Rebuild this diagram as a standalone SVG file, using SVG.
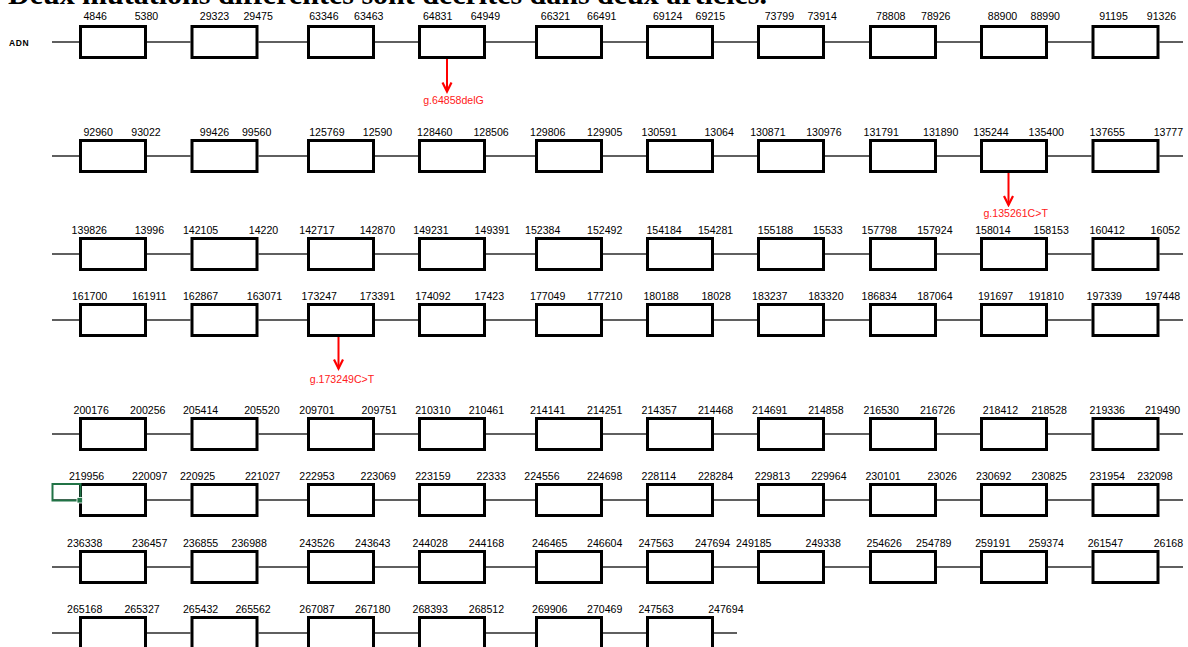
<svg xmlns="http://www.w3.org/2000/svg" width="1188" height="647" viewBox="0 0 1188 647">
<defs>
<style>
.bx{fill:#fff;stroke:#000;stroke-width:3}
.cn{fill:none;stroke:#2b2b2b;stroke-width:1.5}
.n{font-family:"Liberation Sans",Arial,sans-serif;font-size:10.6px;fill:#000}
.m{font-family:"Liberation Sans",Arial,sans-serif;font-size:10.6px;fill:#ff2020;text-anchor:middle}
.ar{fill:none;stroke:#ff0000;stroke-width:2;marker-end:url(#ah)}
</style>
<marker id="ah" markerWidth="12" markerHeight="12" refX="10" refY="6" orient="auto" markerUnits="userSpaceOnUse">
<path d="M1,1.5 L10,6 L1,10.5" fill="none" stroke="#ff0000" stroke-width="2.2"/>
</marker>
</defs>
<rect width="1188" height="647" fill="#fff"/>
<text x="8" y="3.5" font-family="'Liberation Serif','Times New Roman',serif" font-weight="bold" font-size="30" textLength="759" fill="#000">Deux mutations différentes sont décrites dans deux articles.</text>
<text x="9" y="45.5" font-family="'Liberation Sans',Arial,sans-serif" font-weight="bold" font-size="8.5" letter-spacing="0.6" fill="#000">ADN</text>
<g id="connectors">
<path class="cn" d="M52 42H79M147 42H190.5M258.5 42H307M375 42H418M486 42H535M603 42H646M714 42H757M825 42H869M937 42H980M1048 42H1091.5M1159.5 42H1183"/>
<path class="cn" d="M52 156H79M147 156H190.5M258.5 156H307M375 156H418M486 156H535M603 156H646M714 156H757M825 156H869M937 156H980M1048 156H1091.5M1159.5 156H1183"/>
<path class="cn" d="M52 254H79M147 254H190.5M258.5 254H307M375 254H418M486 254H535M603 254H646M714 254H757M825 254H869M937 254H980M1048 254H1091.5M1159.5 254H1183"/>
<path class="cn" d="M52 320H79M147 320H190.5M258.5 320H307M375 320H418M486 320H535M603 320H646M714 320H757M825 320H869M937 320H980M1048 320H1091.5M1159.5 320H1183"/>
<path class="cn" d="M52 434H79M147 434H190.5M258.5 434H307M375 434H418M486 434H535M603 434H646M714 434H757M825 434H869M937 434H980M1048 434H1091.5M1159.5 434H1183"/>
<path class="cn" d="M52 500H79M147 500H190.5M258.5 500H307M375 500H418M486 500H535M603 500H646M714 500H757M825 500H869M937 500H980M1048 500H1091.5M1159.5 500H1183"/>
<path class="cn" d="M52 567H79M147 567H190.5M258.5 567H307M375 567H418M486 567H535M603 567H646M714 567H757M825 567H869M937 567H980M1048 567H1091.5M1159.5 567H1183"/>
<path class="cn" d="M52 633H79M147 633H190.5M258.5 633H307M375 633H418M486 633H535M603 633H646M714 633H737"/>
<path class="ar" d="M447 59V91.5"/>
<path class="ar" d="M1008.5 172.5V205"/>
<path class="ar" d="M338.5 337V368.5"/>
</g>
<g id="row1">
<g id="e1"><rect class="bx" x="80.5" y="26.5" width="65" height="31"/><text class="n" x="83.4" y="19.5">4846</text><text class="n" x="134.7" y="19.5">5380</text></g>
<g id="e2"><rect class="bx" x="192" y="26.5" width="65" height="31"/><text class="n" x="199.8" y="19.5">29323</text><text class="n" x="243.4" y="19.5">29475</text></g>
<g id="e3"><rect class="bx" x="308.5" y="26.5" width="65" height="31"/><text class="n" x="309.2" y="19.5">63346</text><text class="n" x="354" y="19.5">63463</text></g>
<g id="e4"><rect class="bx" x="419.5" y="26.5" width="65" height="31"/><text class="n" x="422.9" y="19.5">64831</text><text class="n" x="470.7" y="19.5">64949</text></g>
<g id="e5"><rect class="bx" x="536.5" y="26.5" width="65" height="31"/><text class="n" x="540.8" y="19.5">66321</text><text class="n" x="587" y="19.5">66491</text></g>
<g id="e6"><rect class="bx" x="647.5" y="26.5" width="65" height="31"/><text class="n" x="652.9" y="19.5">69124</text><text class="n" x="695.6" y="19.5">69215</text></g>
<g id="e7"><rect class="bx" x="758.5" y="26.5" width="65" height="31"/><text class="n" x="764.7" y="19.5">73799</text><text class="n" x="807.4" y="19.5">73914</text></g>
<g id="e8"><rect class="bx" x="870.5" y="26.5" width="65" height="31"/><text class="n" x="876" y="19.5">78808</text><text class="n" x="921" y="19.5">78926</text></g>
<g id="e9"><rect class="bx" x="981.5" y="26.5" width="65" height="31"/><text class="n" x="987.8" y="19.5">88900</text><text class="n" x="1030.5" y="19.5">88990</text></g>
<g id="e10"><rect class="bx" x="1093" y="26.5" width="65" height="31"/><text class="n" x="1099.2" y="19.5">91195</text><text class="n" x="1146.8" y="19.5">91326</text></g>
</g>
<g id="row2">
<g id="e11"><rect class="bx" x="80.5" y="140.5" width="65" height="31"/><text class="n" x="83.4" y="135.7">92960</text><text class="n" x="131.3" y="135.7">93022</text></g>
<g id="e12"><rect class="bx" x="192" y="140.5" width="65" height="31"/><text class="n" x="199.8" y="135.7">99426</text><text class="n" x="241.9" y="135.7">99560</text></g>
<g id="e13"><rect class="bx" x="308.5" y="140.5" width="65" height="31"/><text class="n" x="309.2" y="135.7">125769</text><text class="n" x="362.8" y="135.7">12590</text></g>
<g id="e14"><rect class="bx" x="419.5" y="140.5" width="65" height="31"/><text class="n" x="417.1" y="135.7">128460</text><text class="n" x="473.4" y="135.7">128506</text></g>
<g id="e15"><rect class="bx" x="536.5" y="140.5" width="65" height="31"/><text class="n" x="530" y="135.7">129806</text><text class="n" x="587" y="135.7">129905</text></g>
<g id="e16"><rect class="bx" x="647.5" y="140.5" width="65" height="31"/><text class="n" x="641.5" y="135.7">130591</text><text class="n" x="704.4" y="135.7">13064</text></g>
<g id="e17"><rect class="bx" x="758.5" y="140.5" width="65" height="31"/><text class="n" x="750.2" y="135.7">130871</text><text class="n" x="806.2" y="135.7">130976</text></g>
<g id="e18"><rect class="bx" x="870.5" y="140.5" width="65" height="31"/><text class="n" x="863.5" y="135.7">131791</text><text class="n" x="923" y="135.7">131890</text></g>
<g id="e19"><rect class="bx" x="981.5" y="140.5" width="65" height="31"/><text class="n" x="973.3" y="135.7">135244</text><text class="n" x="1028.6" y="135.7">135400</text></g>
<g id="e20"><rect class="bx" x="1093" y="140.5" width="65" height="31"/><text class="n" x="1089.6" y="135.7">137655</text><text class="n" x="1153.7" y="135.7">13777</text></g>
</g>
<g id="row3">
<g id="e21"><rect class="bx" x="80.5" y="238.5" width="65" height="31"/><text class="n" x="71.6" y="233.5">139826</text><text class="n" x="134.7" y="233.5">13996</text></g>
<g id="e22"><rect class="bx" x="192" y="238.5" width="65" height="31"/><text class="n" x="182.9" y="233.5">142105</text><text class="n" x="248.8" y="233.5">14220</text></g>
<g id="e23"><rect class="bx" x="308.5" y="238.5" width="65" height="31"/><text class="n" x="299.3" y="233.5">142717</text><text class="n" x="359.7" y="233.5">142870</text></g>
<g id="e24"><rect class="bx" x="419.5" y="238.5" width="65" height="31"/><text class="n" x="413.3" y="233.5">149231</text><text class="n" x="474.6" y="233.5">149391</text></g>
<g id="e25"><rect class="bx" x="536.5" y="238.5" width="65" height="31"/><text class="n" x="525" y="233.5">152384</text><text class="n" x="587" y="233.5">152492</text></g>
<g id="e26"><rect class="bx" x="647.5" y="238.5" width="65" height="31"/><text class="n" x="646.4" y="233.5">154184</text><text class="n" x="697.9" y="233.5">154281</text></g>
<g id="e27"><rect class="bx" x="758.5" y="238.5" width="65" height="31"/><text class="n" x="757.8" y="233.5">155188</text><text class="n" x="813.1" y="233.5">15533</text></g>
<g id="e28"><rect class="bx" x="870.5" y="238.5" width="65" height="31"/><text class="n" x="861.5" y="233.5">157798</text><text class="n" x="917.2" y="233.5">157924</text></g>
<g id="e29"><rect class="bx" x="981.5" y="238.5" width="65" height="31"/><text class="n" x="975.2" y="233.5">158014</text><text class="n" x="1033.5" y="233.5">158153</text></g>
<g id="e30"><rect class="bx" x="1093" y="238.5" width="65" height="31"/><text class="n" x="1089.6" y="233.5">160412</text><text class="n" x="1150.6" y="233.5">16052</text></g>
</g>
<g id="row4">
<g id="e31"><rect class="bx" x="80.5" y="304.5" width="65" height="31"/><text class="n" x="71.9" y="300">161700</text><text class="n" x="132" y="300">161911</text></g>
<g id="e32"><rect class="bx" x="192" y="304.5" width="65" height="31"/><text class="n" x="182.9" y="300">162867</text><text class="n" x="246.8" y="300">163071</text></g>
<g id="e33"><rect class="bx" x="308.5" y="304.5" width="65" height="31"/><text class="n" x="301.6" y="300">173247</text><text class="n" x="359.7" y="300">173391</text></g>
<g id="e34"><rect class="bx" x="419.5" y="304.5" width="65" height="31"/><text class="n" x="415.2" y="300">174092</text><text class="n" x="474.6" y="300">17423</text></g>
<g id="e35"><rect class="bx" x="536.5" y="304.5" width="65" height="31"/><text class="n" x="530" y="300">177049</text><text class="n" x="587" y="300">177210</text></g>
<g id="e36"><rect class="bx" x="647.5" y="304.5" width="65" height="31"/><text class="n" x="643.4" y="300">180188</text><text class="n" x="701.4" y="300">18028</text></g>
<g id="e37"><rect class="bx" x="758.5" y="304.5" width="65" height="31"/><text class="n" x="752.1" y="300">183237</text><text class="n" x="808.2" y="300">183320</text></g>
<g id="e38"><rect class="bx" x="870.5" y="304.5" width="65" height="31"/><text class="n" x="861.5" y="300">186834</text><text class="n" x="917.2" y="300">187064</text></g>
<g id="e39"><rect class="bx" x="981.5" y="304.5" width="65" height="31"/><text class="n" x="977.9" y="300">191697</text><text class="n" x="1028.6" y="300">191810</text></g>
<g id="e40"><rect class="bx" x="1093" y="304.5" width="65" height="31"/><text class="n" x="1086.6" y="300">197339</text><text class="n" x="1144.9" y="300">197448</text></g>
</g>
<g id="row5">
<g id="e41"><rect class="bx" x="80.5" y="418.5" width="65" height="31"/><text class="n" x="73.5" y="414">200176</text><text class="n" x="130.1" y="414">200256</text></g>
<g id="e42"><rect class="bx" x="192" y="418.5" width="65" height="31"/><text class="n" x="182.9" y="414">205414</text><text class="n" x="244.2" y="414">205520</text></g>
<g id="e43"><rect class="bx" x="308.5" y="418.5" width="65" height="31"/><text class="n" x="299.3" y="414">209701</text><text class="n" x="361.6" y="414">209751</text></g>
<g id="e44"><rect class="bx" x="419.5" y="418.5" width="65" height="31"/><text class="n" x="415.2" y="414">210310</text><text class="n" x="468.8" y="414">210461</text></g>
<g id="e45"><rect class="bx" x="536.5" y="418.5" width="65" height="31"/><text class="n" x="530" y="414">214141</text><text class="n" x="587" y="414">214251</text></g>
<g id="e46"><rect class="bx" x="647.5" y="418.5" width="65" height="31"/><text class="n" x="641.5" y="414">214357</text><text class="n" x="697.9" y="414">214468</text></g>
<g id="e47"><rect class="bx" x="758.5" y="418.5" width="65" height="31"/><text class="n" x="752.1" y="414">214691</text><text class="n" x="808.2" y="414">214858</text></g>
<g id="e48"><rect class="bx" x="870.5" y="418.5" width="65" height="31"/><text class="n" x="863.5" y="414">216530</text><text class="n" x="919.9" y="414">216726</text></g>
<g id="e49"><rect class="bx" x="981.5" y="418.5" width="65" height="31"/><text class="n" x="982.8" y="414">218412</text><text class="n" x="1031.6" y="414">218528</text></g>
<g id="e50"><rect class="bx" x="1093" y="418.5" width="65" height="31"/><text class="n" x="1089.6" y="414">219336</text><text class="n" x="1144.9" y="414">219490</text></g>
</g>
<g id="row6">
<g id="e51"><rect class="bx" x="80.5" y="484.5" width="65" height="31"/><text class="n" x="68.9" y="480">219956</text><text class="n" x="132" y="480">220097</text></g>
<g id="e52"><rect class="bx" x="192" y="484.5" width="65" height="31"/><text class="n" x="179.9" y="480">220925</text><text class="n" x="244.9" y="480">221027</text></g>
<g id="e53"><rect class="bx" x="308.5" y="484.5" width="65" height="31"/><text class="n" x="299.3" y="480">222953</text><text class="n" x="360.5" y="480">223069</text></g>
<g id="e54"><rect class="bx" x="419.5" y="484.5" width="65" height="31"/><text class="n" x="415.2" y="480">223159</text><text class="n" x="476.5" y="480">22333</text></g>
<g id="e55"><rect class="bx" x="536.5" y="484.5" width="65" height="31"/><text class="n" x="524.3" y="480">224556</text><text class="n" x="587" y="480">224698</text></g>
<g id="e56"><rect class="bx" x="647.5" y="484.5" width="65" height="31"/><text class="n" x="641.5" y="480">228114</text><text class="n" x="697.9" y="480">228284</text></g>
<g id="e57"><rect class="bx" x="758.5" y="484.5" width="65" height="31"/><text class="n" x="754.8" y="480">229813</text><text class="n" x="811.2" y="480">229964</text></g>
<g id="e58"><rect class="bx" x="870.5" y="484.5" width="65" height="31"/><text class="n" x="865.4" y="480">230101</text><text class="n" x="927.5" y="480">23026</text></g>
<g id="e59"><rect class="bx" x="981.5" y="484.5" width="65" height="31"/><text class="n" x="976" y="480">230692</text><text class="n" x="1031.6" y="480">230825</text></g>
<g id="e60"><rect class="bx" x="1093" y="484.5" width="65" height="31"/><text class="n" x="1089.6" y="480">231954</text><text class="n" x="1137.3" y="480">232098</text></g>
</g>
<g id="row7">
<g id="e61"><rect class="bx" x="80.5" y="551.5" width="65" height="31"/><text class="n" x="67" y="546.7">236338</text><text class="n" x="132" y="546.7">236457</text></g>
<g id="e62"><rect class="bx" x="192" y="551.5" width="65" height="31"/><text class="n" x="182.9" y="546.7">236855</text><text class="n" x="231.5" y="546.7">236988</text></g>
<g id="e63"><rect class="bx" x="308.5" y="551.5" width="65" height="31"/><text class="n" x="299.3" y="546.7">243526</text><text class="n" x="355.1" y="546.7">243643</text></g>
<g id="e64"><rect class="bx" x="419.5" y="551.5" width="65" height="31"/><text class="n" x="412.5" y="546.7">244028</text><text class="n" x="468.8" y="546.7">244168</text></g>
<g id="e65"><rect class="bx" x="536.5" y="551.5" width="65" height="31"/><text class="n" x="532" y="546.7">246465</text><text class="n" x="587" y="546.7">246604</text></g>
<g id="e66"><rect class="bx" x="647.5" y="551.5" width="65" height="31"/><text class="n" x="638.4" y="546.7">247563</text><text class="n" x="694.9" y="546.7">247694</text></g>
<g id="e67"><rect class="bx" x="758.5" y="551.5" width="65" height="31"/><text class="n" x="736.1" y="546.7">249185</text><text class="n" x="805.5" y="546.7">249338</text></g>
<g id="e68"><rect class="bx" x="870.5" y="551.5" width="65" height="31"/><text class="n" x="866.5" y="546.7">254626</text><text class="n" x="916.1" y="546.7">254789</text></g>
<g id="e69"><rect class="bx" x="981.5" y="551.5" width="65" height="31"/><text class="n" x="975.2" y="546.7">259191</text><text class="n" x="1028.6" y="546.7">259374</text></g>
<g id="e70"><rect class="bx" x="1093" y="551.5" width="65" height="31"/><text class="n" x="1087.7" y="546.7">261547</text><text class="n" x="1153.7" y="546.7">26168</text></g>
</g>
<g id="row8">
<g id="e71"><rect class="bx" x="80.5" y="617.5" width="65" height="31"/><text class="n" x="67" y="612.7">265168</text><text class="n" x="124.4" y="612.7">265327</text></g>
<g id="e72"><rect class="bx" x="192" y="617.5" width="65" height="31"/><text class="n" x="182.9" y="612.7">265432</text><text class="n" x="235.4" y="612.7">265562</text></g>
<g id="e73"><rect class="bx" x="308.5" y="617.5" width="65" height="31"/><text class="n" x="299.3" y="612.7">267087</text><text class="n" x="355.1" y="612.7">267180</text></g>
<g id="e74"><rect class="bx" x="419.5" y="617.5" width="65" height="31"/><text class="n" x="412.5" y="612.7">268393</text><text class="n" x="468.8" y="612.7">268512</text></g>
<g id="e75"><rect class="bx" x="536.5" y="617.5" width="65" height="31"/><text class="n" x="532" y="612.7">269906</text><text class="n" x="587" y="612.7">270469</text></g>
<g id="e76"><rect class="bx" x="647.5" y="617.5" width="65" height="31"/><text class="n" x="638.4" y="612.7">247563</text><text class="n" x="708.2" y="612.7">247694</text></g>
</g>
<g id="mutations">
<text class="m" x="453.5" y="103.5">g.64858delG</text>
<text class="m" x="1015.7" y="217">g.135261C&gt;T</text>
<text class="m" x="342" y="383">g.173249C&gt;T</text>
</g>
<g id="selection">
<rect x="52.5" y="484" width="28" height="16.5" fill="none" stroke="#217346" stroke-width="2"/>
<rect x="77" y="497.5" width="5.5" height="5.5" fill="#217346" stroke="#fff" stroke-width="0.8"/>
</g>
</svg>
